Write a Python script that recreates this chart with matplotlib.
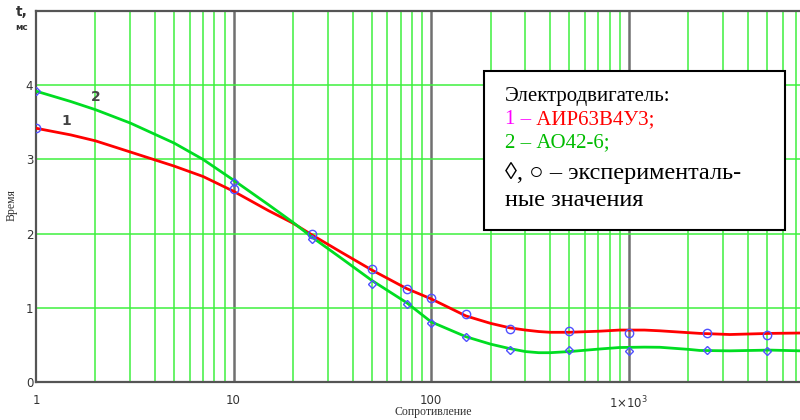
import matplotlib
matplotlib.use("Agg")
import matplotlib.pyplot as plt
from matplotlib.ticker import FixedLocator, NullFormatter

# ---- data ----
curve_x = [1, 1.5, 2, 3, 5, 7, 10, 15, 20, 25, 35, 50, 75, 100, 150, 200, 250,
           300, 350, 400, 500, 714, 900, 1200, 1436, 2000, 2290, 3250, 5180, 7350]
curve1 = [3.42, 3.33, 3.25, 3.10, 2.91, 2.77, 2.57, 2.31, 2.14, 1.98, 1.75,
          1.51, 1.26, 1.12, 0.89, 0.79, 0.73, 0.70, 0.68, 0.67, 0.67, 0.685,
          0.70, 0.70, 0.69, 0.665, 0.655, 0.64, 0.655, 0.66]
curve2 = [3.92, 3.78, 3.67, 3.49, 3.22, 3.00, 2.72, 2.39, 2.15, 1.95, 1.67,
          1.37, 1.07, 0.81, 0.61, 0.51, 0.45, 0.41, 0.395, 0.395, 0.41, 0.445,
          0.465, 0.47, 0.468, 0.44, 0.425, 0.42, 0.43, 0.42]

exp_x = [1, 10, 25, 50, 75, 100, 150, 250, 500, 1000, 2500, 5000]
exp1 = [3.42, 2.60, 1.99, 1.52, 1.26, 1.13, 0.91, 0.72, 0.69, 0.66, 0.66, 0.64]
exp2 = [3.92, 2.69, 1.93, 1.32, 1.05, 0.80, 0.60, 0.43, 0.43, 0.42, 0.43, 0.42]

x_major = [1, 10, 100, 1000]
x_major_labels = ["1", "10", "100", r"1$\times$10$^3$"]
y_ticks = [0, 1, 2, 3, 4]

serif = ["Liberation Serif", "DejaVu Serif"]
sans = ["DejaVu Sans"]

fig = plt.figure(figsize=(8, 4.2), dpi=100)
ax = fig.add_axes([36 / 800, 38 / 420, 1 - 36 / 800, 371 / 420])
ax.set_xscale("log")
ax.set_xlim(1, 7350)
ax.set_ylim(0, 5)

grid_green = "#3ef03e"
minors = [m * 10 ** d for d in range(0, 4) for m in range(2, 10) if m * 10 ** d < 7350]
for xv in minors:
    ax.axvline(xv, color=grid_green, lw=1.1, zorder=1)
for xv in x_major[1:]:
    ax.axvline(xv, color="#707070", lw=1.8, zorder=1)
for yv in y_ticks[1:]:
    ax.axhline(yv, color=grid_green, lw=1.1, zorder=1)

ax.plot(curve_x, curve1, color="#ff0000", lw=2, zorder=3)
ax.plot(curve_x, curve2, color="#00dd22", lw=2, zorder=3)
ax.plot(exp_x, exp1, ls="none", marker="o", ms=6, mfc="none", mec="#5050ff",
        mew=1.0, zorder=4)
ax.plot(exp_x, exp2, ls="none", marker="D", ms=4.5, mfc="none", mec="#5050ff",
        mew=1.0, zorder=4)

ax.xaxis.set_major_locator(FixedLocator(x_major))
ax.set_xticklabels(x_major_labels)
ax.xaxis.set_minor_locator(FixedLocator([]))
ax.xaxis.set_minor_formatter(NullFormatter())
ax.set_yticks(y_ticks)
ax.tick_params(axis="x", length=0, pad=9, labelsize=8.5, colors="#333333")
ax.tick_params(axis="y", length=0, pad=2, labelsize=8.5, colors="#333333")
for lab in ax.get_xticklabels() + ax.get_yticklabels():
    lab.set_family(sans)

for side in ["left", "bottom", "top"]:
    ax.spines[side].set_color("#555555")
    ax.spines[side].set_linewidth(1.6)
ax.spines["right"].set_visible(False)

fig.text(433 / 800, 1 - 412 / 420, "Сопротивление", family=serif, fontsize=8.5,
         ha="center", va="center", color="#333333")
fig.text(12 / 800, 1 - 205 / 420, "Время", rotation=90, family=serif, fontsize=8.5,
         ha="center", va="center", color="#333333")
fig.text(22 / 800, 1 - 12 / 420, "t,", family=sans, fontsize=10, fontweight="bold",
         ha="center", va="center", color="#333333")
fig.text(22 / 800, 1 - 28 / 420, "мс", family=sans, fontsize=6.5, fontweight="bold",
         ha="center", va="center", color="#333333")

ax.text(1.42, 3.52, "1", family=sans, fontsize=10, fontweight="bold", color="#444444",
        ha="center", va="center")
ax.text(2.0, 3.84, "2", family=sans, fontsize=10, fontweight="bold", color="#444444",
        ha="center", va="center")

# annotation box
bx0, by0, bw, bh = 484 / 800, 1 - 230 / 420, 301 / 800, 159 / 420
box = plt.Rectangle((bx0, by0), bw, bh, transform=fig.transFigure, facecolor="white",
                    edgecolor="black", lw=1.5, zorder=10)
fig.patches.append(box)
tx = 505 / 800
fs_small = 15
fs_big = 17.5
fig.text(tx, 1 - 97 / 420, "Электродвигатель:", family=serif, fontsize=fs_small,
         va="center", ha="left", zorder=11)
t1 = fig.text(tx, 1 - 120 / 420, "1 –", family=serif, fontsize=fs_small, color="#ff00ff",
              va="center", ha="left", zorder=11)
fig.text(0, 0, " АИР63В4У3;", family=serif, fontsize=fs_small, color="#ff0000",
         va="bottom", ha="left", zorder=11,
         transform=matplotlib.transforms.offset_copy(fig.transFigure, fig=fig))
fig.texts[-1].remove()
fig.add_artist(plt.Annotation(" АИР63В4У3;", xy=(1, 0), xycoords=t1, va="bottom",
                              ha="left", family=serif, fontsize=fs_small,
                              color="#ff0000", zorder=11))
fig.text(tx, 1 - 143 / 420, "2 – АО42-6;", family=serif, fontsize=fs_small,
         color="#00bb00", va="center", ha="left", zorder=11)
fig.text(tx, 1 - 173 / 420, "◊, ○ – эксперименталь-", family=serif, fontsize=fs_big,
         va="center", ha="left", zorder=11)
fig.text(tx, 1 - 200 / 420, "ные значения", family=serif, fontsize=fs_big,
         va="center", ha="left", zorder=11)

fig.savefig("out.png", dpi=100)
